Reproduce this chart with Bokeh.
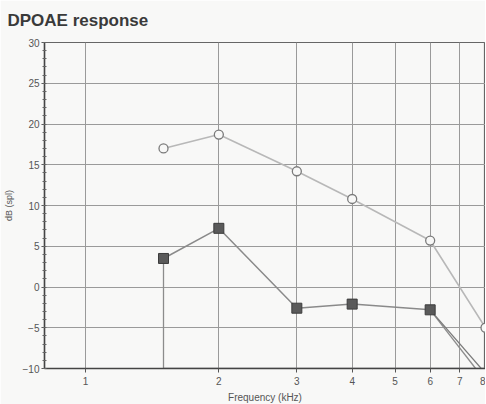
from bokeh.plotting import figure
from bokeh.models import FixedTicker, SingleIntervalTicker, Range1d
from bokeh.embed import file_html
from bokeh.resources import INLINE

# Data
freq_khz = [1.5, 2, 3, 4, 6, 8]
upper_db = [17.0, 18.7, 14.2, 10.8, 5.7, -5.0]          # open circles
dp_freq = [1.5, 2, 3, 4, 6]
dp_db = [3.5, 7.2, -2.6, -2.1, -2.8]                     # filled squares
dp_tail_freq = [6, 8]
dp_tail_db = [-2.8, -10.6]
nf_freq = [1.5, 1.5, 8]
nf_db = [3.5, -10, -10]
nf2_freq = [6, 7.6]
nf2_db = [-2.8, -10]
x_ticks = [1, 2, 3, 4, 5, 6, 7, 8]

BG = "#f8f8f7"

p = figure(frame_width=441, frame_height=326, x_axis_type="log",
           x_range=Range1d(0.808, 8.0), y_range=Range1d(-10, 30),
           output_backend="svg", toolbar_location=None,
           min_border_left=37, min_border_top=34, min_border_right=0, min_border_bottom=28,
           background_fill_color=BG, border_fill_color=BG,
           outline_line_color="#666666", outline_line_width=1.2)

p.title.text = "DPOAE response"
p.title.text_font = "Liberation Sans"
p.title.text_font_size = "17px"
p.title.text_font_style = "bold"
p.title.text_color = "#3a3a3a"
p.title.standoff = 21
p.title.offset = -37
p.title.vertical_align = "top"

# grid
p.xgrid.grid_line_color = "#9a9a9a"
p.ygrid.grid_line_color = "#9a9a9a"
p.xgrid.grid_line_width = 1
p.ygrid.grid_line_width = 1

# x axis
xa = p.xaxis[0]
xa.ticker = FixedTicker(ticks=x_ticks)
xa.major_label_overrides = {t: str(t) for t in x_ticks}
xa.axis_label = "Frequency (kHz)"
xa.axis_label_text_font = "Liberation Sans"
xa.axis_label_text_font_size = "10px"
xa.axis_label_text_font_style = "normal"
xa.axis_label_text_color = "#555555"
xa.axis_label_standoff = 4
xa.major_label_text_font = "Liberation Sans"
xa.major_label_text_font_size = "10px"
xa.major_label_text_color = "#555555"
xa.major_label_standoff = 4
xa.major_tick_out = 4
xa.major_tick_in = 0
xa.minor_tick_out = 0
xa.axis_line_color = "#444444"
xa.axis_line_width = 1.5
xa.major_tick_line_color = "#555555"

# y axis
ya = p.yaxis[0]
ya.ticker = SingleIntervalTicker(interval=5, num_minor_ticks=5)
ya.axis_label = "dB (spl)"
ya.axis_label_text_font = "Liberation Sans"
ya.axis_label_text_font_size = "9px"
ya.axis_label_text_font_style = "normal"
ya.axis_label_text_color = "#555555"
ya.axis_label_standoff = 6
ya.major_label_text_font = "Liberation Sans"
ya.major_label_text_font_size = "10px"
ya.major_label_text_color = "#555555"
ya.major_label_standoff = 2
ya.major_tick_out = 3
ya.major_tick_in = 0
ya.minor_tick_out = 2
ya.minor_tick_in = 2
ya.axis_line_color = "#444444"
ya.axis_line_width = 1.5
ya.major_tick_line_color = "#555555"
ya.minor_tick_line_color = "#666666"

# noise / boundary traces
p.line(nf_freq, nf_db, line_color="#8c8c8c", line_width=1.3)
p.line(nf2_freq, nf2_db, line_color="#8c8c8c", line_width=1.3)
p.line(dp_tail_freq, dp_tail_db, line_color="#7a7a7a", line_width=1.3)

# upper trace with open circles
p.line(freq_khz, upper_db, line_color="#b8b8b8", line_width=1.6)
p.scatter(freq_khz, upper_db, marker="circle", size=9, fill_color=BG,
          line_color="#7a7a7a", line_width=1.3)

# DP trace with filled squares
p.line(dp_freq, dp_db, line_color="#8a8a8a", line_width=1.5)
p.scatter(dp_freq, dp_db, marker="square", size=10, fill_color="#5a5a5a",
          line_color="#3c3c3c", line_width=1)

open("out.html", "w").write(file_html(p, INLINE))
